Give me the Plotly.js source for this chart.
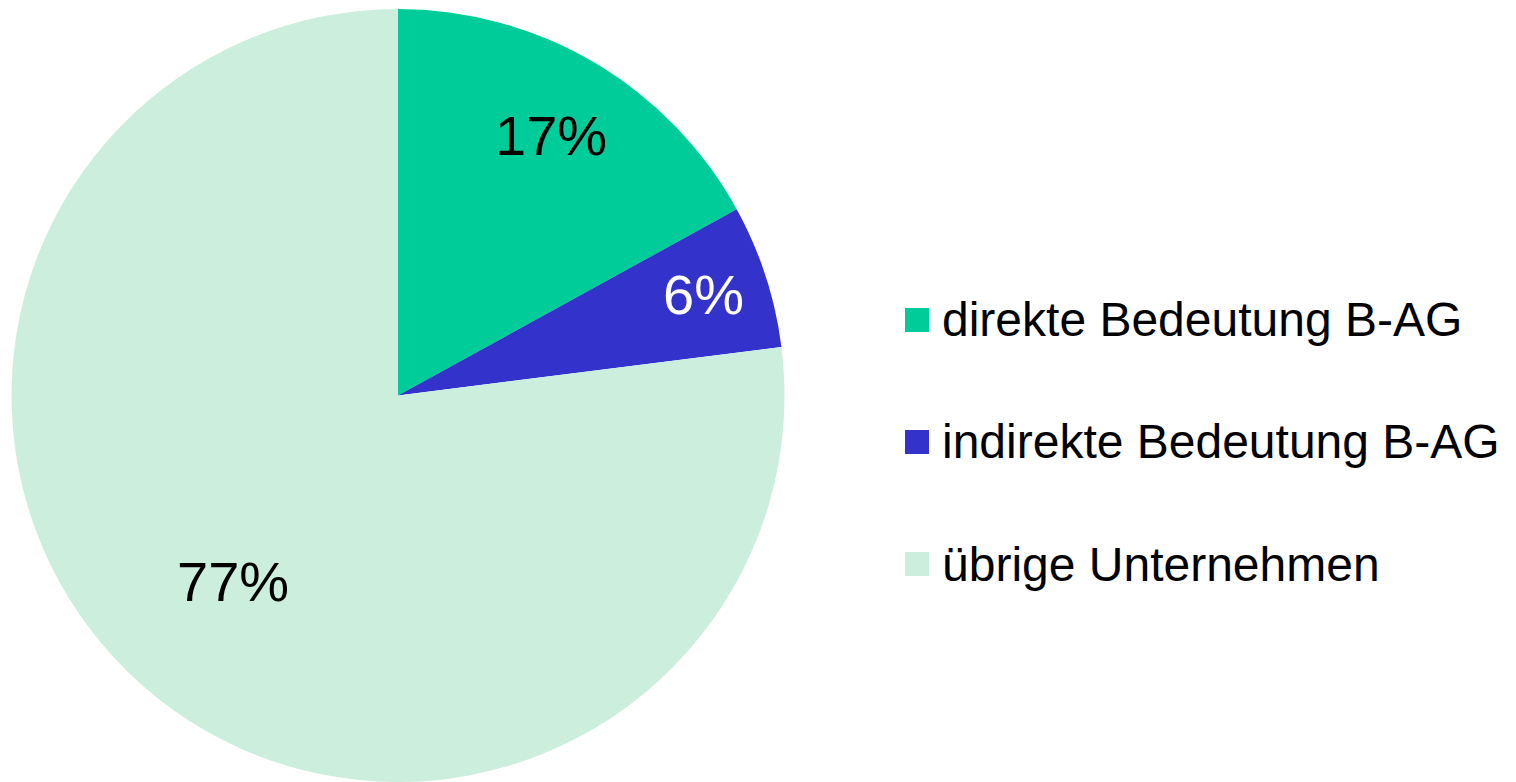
<!DOCTYPE html>
<html>
<head>
<meta charset="utf-8">
<script src="https://cdn.plot.ly/plotly-3.0.1.min.js"></script>
<style>html,body{margin:0;padding:0;background:#fff;}#chart{width:1516px;height:782px;}</style>
</head>
<body>
<div id="chart"></div>
<script>
const labels = ["direkte Bedeutung B-AG", "indirekte Bedeutung B-AG", "übrige Unternehmen"];
const values = [17, 6, 77];
const colors = ["#00CC99", "#3333CC", "#CCEEDD"];
const textColors = ["#000000", "#FFFFFF", "#000000"];
// radial placement of the percentage labels (fraction of radius)
const labelRadius = [0.777, 0.83, 0.647];

const W = 1516, H = 782;
const FONT = "Liberation Sans, Arial, sans-serif";
const domX = [11 / W, 785 / W], domY = [0, 0.9885];

const trace = {
  type: "pie",
  labels: labels,
  values: values,
  sort: false,
  direction: "clockwise",
  rotation: 0,
  marker: {colors: colors, line: {width: 0}},
  textinfo: "none",
  hoverinfo: "label+percent",
  showlegend: false,
  domain: {x: domX, y: domY}
};

const annotations = [], shapes = [];

// percentage labels placed at slice mid-angles
const total = values.reduce((a, b) => a + b, 0);
const cxPx = (domX[0] + domX[1]) / 2 * W;
const cyPx = (1 - (domY[0] + domY[1]) / 2) * H;
const Rpx = Math.min((domX[1] - domX[0]) * W, (domY[1] - domY[0]) * H) / 2;
let cum = 0;
values.forEach((v, i) => {
  const mid = (cum + v / 2) / total * 2 * Math.PI;
  cum += v;
  const px = cxPx + Math.sin(mid) * Rpx * labelRadius[i];
  const py = cyPx - Math.cos(mid) * Rpx * labelRadius[i];
  annotations.push({
    xref: "paper", yref: "paper",
    x: px / W, y: 1 - (py - 2) / H,
    xanchor: "center", yanchor: "middle",
    text: Math.round(v / total * 100) + "%", showarrow: false,
    font: {family: FONT, size: 56, color: textColors[i]}
  });
});

// legend drawn as annotations + shapes
const legRow0 = 320, legGap = 122;
labels.forEach((lab, i) => {
  const cy = legRow0 + i * legGap;
  shapes.push({
    type: "rect", xref: "paper", yref: "paper",
    x0: 905 / W, x1: 929 / W,
    y0: 1 - (cy + 12) / H, y1: 1 - (cy - 12) / H,
    fillcolor: colors[i], line: {width: 0}
  });
  annotations.push({
    xref: "paper", yref: "paper",
    x: 940 / W, y: 1 - cy / H,
    xanchor: "left", yanchor: "middle",
    text: lab, showarrow: false,
    font: {family: FONT, size: 48, color: "#000"}
  });
});

const layout = {
  width: W, height: H,
  margin: {l: 0, r: 0, t: 0, b: 0},
  paper_bgcolor: "#FFFFFF",
  plot_bgcolor: "#FFFFFF",
  showlegend: false,
  annotations: annotations,
  shapes: shapes
};

Plotly.newPlot("chart", [trace], layout, {displayModeBar: false, staticPlot: true});
</script>
</body>
</html>
